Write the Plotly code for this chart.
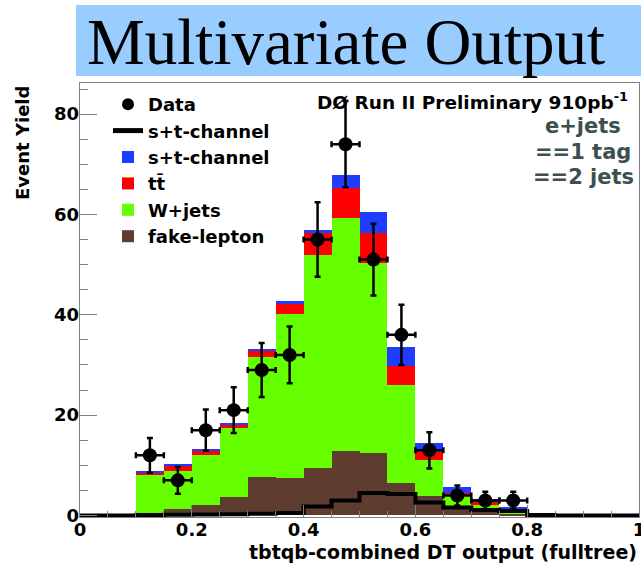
import plotly.graph_objects as go

# ---------------- data ----------------
bin_width = 0.05
bin_centers = [0.125, 0.175, 0.225, 0.275, 0.325, 0.375, 0.425, 0.475,
               0.525, 0.575, 0.625, 0.675, 0.725, 0.775]
fake_lepton = [0.2, 1.2, 2.0, 3.6, 7.7, 7.4, 9.4, 12.8, 12.5, 6.4, 3.8, 1.8, 1.0, 0.3]
wjets_top   = [8.0, 8.9, 12.0, 17.4, 31.6, 40.2, 52.0, 59.3, 50.3, 26.1, 11.1, 4.1, 2.1, 0.8]
ttbar_top   = [8.6, 9.9, 12.9, 18.2, 32.8, 42.2, 56.3, 65.2, 56.4, 29.8, 12.6, 4.5, 2.6, 1.0]
signal_top  = [8.9, 10.1, 13.1, 18.5, 33.2, 42.8, 56.9, 67.9, 60.4, 33.6, 14.4, 5.6, 3.3, 1.6]

wjets  = [round(w - f, 2) for w, f in zip(wjets_top, fake_lepton)]
ttbar  = [round(t - w, 2) for t, w in zip(ttbar_top, wjets_top)]
signal = [round(s - t, 2) for s, t in zip(signal_top, ttbar_top)]

# signal-only histogram (black line), full range 0..1 in 0.05 bins
line_edges = [round(i * 0.05, 2) for i in range(21)]
signal_line = [0, 0, 0.1, 0.15, 0.2, 0.25, 0.35, 0.5, 1.8, 3.0,
               4.5, 4.3, 2.6, 1.6, 1.1, 0.9, 0.1, 0, 0, 0]

data_x = bin_centers
data_y = [12, 7, 17, 21, 29, 32, 55, 74, 51, 36, 13, 4, 3, 3]
data_err = [round(v ** 0.5, 2) for v in data_y]

x_range = [0, 1]
y_range = [-0.3, 86.2]
x_tickvals = [0, 0.2, 0.4, 0.6, 0.8, 1]
x_ticktext = ["0", "0.2", "0.4", "0.6", "0.8", "1"]
y_tickvals = [0, 20, 40, 60, 80]

# ---------------- figure ----------------
W, H = 641, 565
ML, MR, MT, MB = 80, 2, 83, 48


def pxx(xp):
    return (xp - ML) / (W - ML - MR)


def pxy(yp):
    return (H - MB - yp) / (H - MT - MB)


BOLD = dict(family="DejaVu Sans", weight="bold", color="black")
TICKFONT = dict(family="DejaVu Sans", weight="bold", size=18, color="black")

fig = go.Figure()

fig.add_trace(go.Bar(x=bin_centers, y=fake_lepton, width=bin_width, name="fake-lepton",
                     marker=dict(color="#5f3c30", line=dict(width=0)), legendrank=6))
fig.add_trace(go.Bar(x=bin_centers, y=wjets, width=bin_width, name="W+jets",
                     marker=dict(color="#66ff00", line=dict(width=0)), legendrank=5))
fig.add_trace(go.Bar(x=bin_centers, y=ttbar, width=bin_width, name="tt\u0304",
                     marker=dict(color="#ff0000", line=dict(width=0)), legendrank=4))
fig.add_trace(go.Bar(x=bin_centers, y=signal, width=bin_width, name="s+t-channel",
                     marker=dict(color="#1f3cff", line=dict(width=0)), legendrank=3))

fig.add_trace(go.Scatter(x=line_edges, y=signal_line + [signal_line[-1]], mode="lines",
                         line=dict(color="black", width=4, shape="hv"),
                         name="s+t-channel", legendrank=2))

fig.add_trace(go.Scatter(x=data_x, y=data_y, mode="markers", name="Data",
                         marker=dict(color="black", size=14),
                         error_y=dict(type="data", array=data_err, color="black",
                                      thickness=2.5, width=3),
                         error_x=dict(type="constant", value=bin_width / 2, color="black",
                                      thickness=2.5, width=3),
                         legendrank=1))

# main axes: frame + inside ticks (no labels)
frame_axis = dict(ticks="inside", tickcolor="#808080", showline=True, mirror=True,
                  linecolor="#808080", linewidth=1, showgrid=False, zeroline=False,
                  automargin=False, showticklabels=False)
# overlay axes: labels only, placed right at the frame
label_axis = dict(ticks="", showline=False, showgrid=False, zeroline=False,
                  automargin=False, ticklabelposition="outside", ticklabeloverflow="allow",
                  tickfont=TICKFONT)

fig.update_layout(
    width=W, height=H, autosize=False,
    margin=dict(l=ML, r=MR, t=MT, b=MB, pad=0),
    paper_bgcolor="white", plot_bgcolor="white",
    barmode="stack", bargap=0,
    showlegend=True,
    legend=dict(x=pxx(108), y=pxy(86), xanchor="left", yanchor="top",
                bgcolor="rgba(0,0,0,0)", traceorder="normal",
                font=dict(family="DejaVu Sans", weight="bold", size=18, color="black"),
                itemsizing="constant", tracegroupgap=0),
    xaxis=dict(range=x_range, tickvals=x_tickvals, ticklen=12,
               minor=dict(dtick=0.05, ticklen=6, ticks="inside", tickcolor="#808080"),
               **frame_axis),
    yaxis=dict(range=y_range, tickvals=y_tickvals, ticklen=17,
               minor=dict(dtick=5, ticklen=8, ticks="inside", tickcolor="#808080"),
               **frame_axis),
    xaxis2=dict(range=x_range, tickvals=x_tickvals, ticktext=x_ticktext,
                overlaying="x", side="bottom", anchor="y", **label_axis),
    yaxis2=dict(range=y_range, tickvals=y_tickvals,
                overlaying="y", side="left", anchor="x", **label_axis),
)

# invisible helper trace so the label axes are drawn
fig.add_trace(go.Scatter(x=[0.5], y=[0], xaxis="x2", yaxis="y2", mode="markers",
                         marker=dict(opacity=0), showlegend=False, hoverinfo="skip"))

# title box
fig.add_shape(type="rect", xref="paper", yref="paper",
              x0=pxx(76), x1=pxx(641), y0=pxy(76), y1=pxy(5),
              fillcolor="#99ccff", line=dict(width=0), layer="below")
fig.add_annotation(text="Multivariate Output", xref="paper", yref="paper",
                   x=pxx(346), y=pxy(42), xanchor="center", yanchor="middle", showarrow=False,
                   font=dict(family="Liberation Serif", size=65, color="black"))

# labels
fig.add_annotation(text="D\u00d8 Run II Preliminary 910pb<sup>-1</sup>", xref="paper", yref="paper",
                   x=pxx(630), y=pxy(101), xanchor="right", yanchor="middle", showarrow=False,
                   font=dict(size=18.5, **BOLD))
for txt, yp in [("e+jets", 126), ("==1 tag", 152), ("==2 jets", 177)]:
    fig.add_annotation(text=txt, xref="paper", yref="paper",
                       x=pxx(583), y=pxy(yp), xanchor="center", yanchor="middle", showarrow=False,
                       font=dict(family="DejaVu Sans", weight="bold", size=21, color="#3d4f4f"))

fig.add_annotation(text="Event Yield", xref="paper", yref="paper", textangle=-90,
                   x=pxx(23), y=pxy(143), xanchor="center", yanchor="middle", showarrow=False,
                   font=dict(size=18, **BOLD))
fig.add_annotation(text="tbtqb-combined DT output (fulltree)", xref="paper", yref="paper",
                   x=pxx(639), y=pxy(552), xanchor="right", yanchor="middle", showarrow=False,
                   font=dict(size=19, **BOLD))

# remove the default page margin so the figure sits at the window's top-left corner
fig.write_html("out.html", config={"displayModeBar": False},
               post_script="document.body.style.margin='0';")
